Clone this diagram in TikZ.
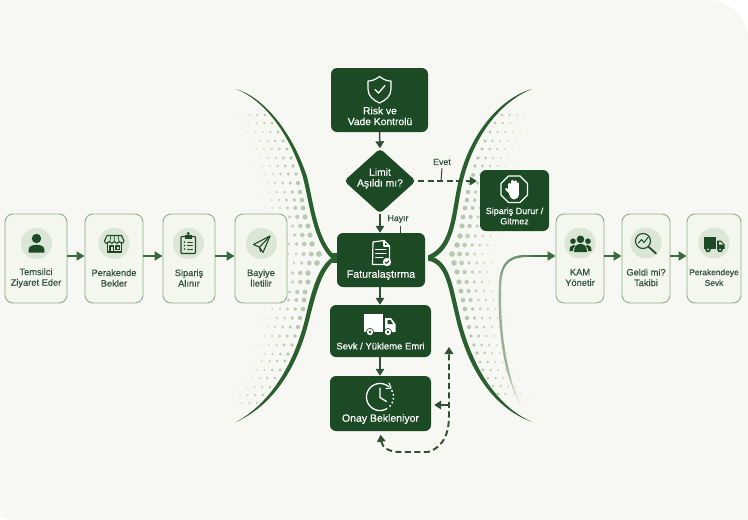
\documentclass[tikz,border=0pt]{standalone}
\usepackage{fontspec}
\setmainfont{Liberation Sans}
\newfontfamily\labfont{Liberation Sans}[FakeBold=0.35]
\usetikzlibrary{arrows.meta,shapes.geometric}
\definecolor{bgc}{HTML}{F7F8F3}
\definecolor{darkg}{HTML}{1C4A24}
\definecolor{curveg}{HTML}{2A5F2F}
\definecolor{arrg}{HTML}{386C3D}
\definecolor{arrd}{HTML}{2F4F33}
\definecolor{boxf}{HTML}{F3F7EE}
\definecolor{boxe}{HTML}{90AE86}
\definecolor{discf}{HTML}{DBE6D6}
\definecolor{dotc}{HTML}{B6C8AF}
\definecolor{labc}{HTML}{32503A}
\tikzset{
  x=1pt,y=-1pt,
  lightbox/.style={draw=boxe,fill=boxf,line width=.9pt,rounded corners=8pt,inner sep=0pt,minimum height=89pt},
  darkbox/.style={fill=darkg,rounded corners=6pt,inner sep=0pt},
  disc/.style={circle,fill=discf,inner sep=0pt,minimum size=31pt},
  lab/.style={align=center,inner sep=0pt,text=labc,font=\labfont\fontsize{9.3}{10.6}\selectfont},
  wlab/.style={align=center,inner sep=0pt,text=white,font=\labfont\fontsize{10.3}{10.8}\selectfont},
  small/.style={align=center,inner sep=0pt,text=labc,font=\labfont\fontsize{8.8}{10}\selectfont},
  flow/.style={arrg,line width=1.9pt,-{Triangle[length=8pt,width=9pt]}},
  cflow/.style={arrd,line width=1.5pt,-{Triangle[length=7pt,width=8.5pt]}},
  dflow/.style={arrd,line width=1.9pt,dash pattern=on 6pt off 3.5pt,-{Triangle[length=7pt,width=8.5pt]}},
  tick/.style={arrd,line width=1pt},
  wico/.style={white,line width=1.2pt,line join=round,line cap=round},
  dico/.style={darkg,line width=1.1pt,line join=round,line cap=round},
}
\begin{document}
\begin{tikzpicture}
\useasboundingbox (0,0) rectangle (748,520);
\fill[white] (0,0) rectangle (748,520);
\fill[bgc] (0,0) -- (708,0) .. controls (730,0) and (748,18) .. (748,40) -- (748,520) -- (10,520) .. controls (4.5,520) and (0,515.5) .. (0,510) -- cycle;
% halftone dots, left
\foreach \yy/\xc in {115/265,123/272,132/278,141/283,149/287,158/291,166/293,174/296,183/298,192/300,200/302,208/303,217/305,226/308,235/310,244/312,254/319,263/317,273/308,282/308,292/305,300/304,309/303,318/300,327/298,336/295,345/292,354/288,361/285,370/280,378/275,387/270,395/263,403/257}{
  \foreach \n in {0,...,6}{
    \pgfmathsetmacro{\ff}{1-0.55*abs(\yy-254)/140}
    \pgfmathsetmacro{\rr}{max(0.4,(2.9-0.42*\n)*\ff)}
    \pgfmathsetmacro{\oo}{1-0.1*\n}
    \fill[dotc,opacity=\oo] ({\xc-7.7*\n},\yy) circle[radius=\rr];
  }
}
% halftone dots, right
\foreach \yy/\xc in {115/502,123/495,132/490,141/485,149/482,158/478,166/475,175/473,183/470,192/468,200/467,208/465,217/463,226/462,236/460,245/457,254/452,263/454,272/457,282/459,291/461,300/463,309/465,318/467,327/469,336/471,345/474,353/477,362/480,370/483,378/488,386/493,394/498}{
  \foreach \n in {0,...,6}{
    \pgfmathsetmacro{\ff}{1-0.55*abs(\yy-254)/140}
    \pgfmathsetmacro{\rr}{max(0.4,(2.9-0.42*\n)*\ff)}
    \pgfmathsetmacro{\oo}{1-0.1*\n}
    \fill[dotc,opacity=\oo] ({\xc+7.6*\n},\yy) circle[radius=\rr];
  }
}
% big tapered curves
\fill[curveg] (236,89) .. controls (262,96.5) and (291,129) .. (307,176.5) .. controls (314,205) and (317,240) .. (336,257) -- (333,260) .. controls (313,242) and (310,205) .. (303,177.5) .. controls (289,131) and (262,99) .. (236,89) -- cycle;
\fill[curveg] (336,259) .. controls (322,270) and (316.5,291) .. (309,320.5) .. controls (301,353) and (282,401) .. (236,422) .. controls (278,399) and (297,351) .. (305,319.5) .. controls (312,289) and (318,266) .. (334,256) -- cycle;
\fill[curveg] (332,253) rectangle (338,263);
\fill[curveg] (532,89) .. controls (500,98) and (470,134) .. (459,179.5) .. controls (451,211) and (453,245) .. (428,255.5) -- (428,260.5) .. controls (457,250) and (455,213) .. (463,180.5) .. controls (474,136) and (500,102) .. (532,89) -- cycle;
\fill[curveg] (428,255.5) .. controls (450,260) and (452,284) .. (460,317.5) .. controls (470,359) and (492,404) .. (532,422) .. controls (488,406) and (466,361) .. (456,318.5) .. controls (448,286) and (446,264) .. (428,260.5) -- cycle;
% light boxes
\node[lightbox,minimum width=62pt] (n1) at (36,258.5) {};
\node[lightbox,minimum width=58pt] (n2) at (114,258.5) {};
\node[lightbox,minimum width=52pt] (n3) at (189,258.5) {};
\node[lightbox,minimum width=52pt] (n4) at (261,258.5) {};
\node[lightbox,minimum width=48pt] (n5) at (580,258.5) {};
\node[lightbox,minimum width=48pt] (n6) at (646,258.5) {};
\node[lightbox,minimum width=54pt] (n7) at (714,258.5) {};
\node[disc] (d1) at (36.5,243.5) {};
\node[disc] (d2) at (114,243.5) {};
\node[disc] (d3) at (188.5,243.5) {};
\node[disc] (d4) at (261.5,243.5) {};
\node[disc] (d5) at (580,243) {};
\node[disc] (d6) at (646,243) {};
\node[disc] (d7) at (714,243) {};
\node[lab] (t1) at (36,278) {Temsilci\\Ziyaret Eder};
\node[lab] (t2) at (114,278) {Perakende\\Bekler};
\node[lab] (t3) at (189,278) {Sipariş\\Alınır};
\node[lab] (t4) at (261,278) {Bayiye\\İletilir};
\node[lab] (t5) at (580,277.5) {KAM\\Yönetir};
\node[lab] (t6) at (646,277.5) {Geldi mi?\\Takibi};
\node[lab,font=\labfont\fontsize{8.4}{10.6}\selectfont] (t7) at (714,277.5) {Perakendeye\\Sevk};
% dark nodes
\node[darkbox,minimum width=97pt,minimum height=64pt] (risk) at (379.5,100) {};
\node[diamond,fill=darkg,rounded corners=4pt,inner sep=0pt,minimum width=72pt,minimum height=65pt,aspect=1.1] (lim) at (380,181) {};
\node[darkbox,minimum width=88pt,minimum height=54pt] (fat) at (381,260) {};
\node[darkbox,minimum width=101pt,minimum height=52pt] (sevk) at (380.5,331) {};
\node[darkbox,minimum width=101pt,minimum height=55pt] (onay) at (380.5,403.5) {};
\node[darkbox,minimum width=69pt,minimum height=61pt] (stop) at (514.5,200.5) {};
\node[wlab] (tr) at (380,116) {Risk ve\\Vade Kontrolü};
\node[wlab] (tl) at (380,178.5) {Limit\\Aşıldı mı?};
\node[wlab,font=\labfont\fontsize{10.6}{10.8}\selectfont] (tf) at (381,275) {Faturalaştırma};
\node[wlab,font=\labfont\fontsize{9.5}{10.8}\selectfont] (ts) at (380.5,346) {Sevk / Yükleme Emri};
\node[wlab,font=\labfont\fontsize{10.5}{10.8}\selectfont] (to) at (380.5,419) {Onay Bekleniyor};
\node[wlab,font=\labfont\fontsize{9}{10.3}\selectfont] (tt) at (514.5,216) {Sipariş Durur /\\Gitmez};
\node[small] (evet) at (442,162) {Evet};
\node[small] (hayir) at (398,219) {Hayır};
% connectors
\draw[flow] ([yshift=2.5pt]n1.east) -- ([yshift=2.5pt]n2.west);
\draw[flow] ([yshift=2.5pt]n2.east) -- ([yshift=2.5pt]n3.west);
\draw[flow] ([yshift=2.5pt]n3.east) -- ([yshift=2.5pt]n4.west);
\draw[flow] ([yshift=2.5pt]n5.east) -- ([yshift=2.5pt]n6.west);
\draw[flow] ([yshift=2.5pt]n6.east) -- ([yshift=2.5pt]n7.west);
\draw[cflow] (risk.south) -- (lim.north);
\draw[cflow] (lim.south) -- (lim.south |- fat.north);
\draw[cflow] (lim.south |- fat.south) -- (lim.south |- sevk.north);
\draw[cflow] (lim.south |- sevk.south) -- (lim.south |- onay.north);
\coordinate (evetb) at (441,181);
\coordinate (hayb) at (400,232.5);
\draw[dflow] ([xshift=2pt]lim.east) -- ([xshift=-3pt]stop.west |- evetb);
\draw[tick] (evet.south) ++(0,3) -- (evetb);
\draw[tick] (hayir.south) ++(2,3) -- (hayb);
% incoming light curve with gradient
\foreach \i in {0,...,23}{
  \pgfmathsetmacro{\ta}{\i/24}
  \pgfmathsetmacro{\tb}{(\i+1)/24}
  \pgfmathsetmacro{\cc}{min(50,4+\i*5)}
  \pgfmathsetmacro{\lw}{min(2.4,0.5+\i*0.2)}
  \draw[arrg!\cc!bgc,line width=\lw pt,line cap=round] plot[domain=\ta:\tb,samples=4,smooth] ({(1-\x)^3*523+3*(1-\x)^2*\x*505+3*(1-\x)*\x*\x*499+\x^3*500},{(1-\x)^3*408+3*(1-\x)^2*\x*380+3*(1-\x)*\x*\x*330+\x^3*290});
}
\foreach \i in {0,...,9}{
  \pgfmathsetmacro{\ta}{\i/10}
  \pgfmathsetmacro{\tb}{(\i+1)/10}
  \pgfmathsetmacro{\cc}{50+\i*3}
  \draw[arrg!\cc!bgc,line width=2.3pt,line cap=round] plot[domain=\ta:\tb,samples=4,smooth] ({(1-\x)^3*500+3*(1-\x)^2*\x*500+3*(1-\x)*\x*\x*505+\x^3*525},{(1-\x)^3*290+3*(1-\x)^2*\x*268+3*(1-\x)*\x*\x*257+\x^3*256});
}
\foreach \i in {0,...,5}{
  \pgfmathsetmacro{\cc}{80+\i*4}
  \draw[arrg!\cc!bgc,line width=2.2pt] ({525+\i*2},256) -- ({527+\i*2},256);
}
\coordinate (kin) at (537,256);
\draw[flow] (kin) -- ([yshift=2.5pt]n5.west);
% dashed feedback
\coordinate (fb1) at (449,347);
\coordinate (fb2) at (449,405);
\draw[dflow,{Triangle[length=7pt,width=8.5pt]}-{Triangle[length=7pt,width=8.5pt]}] ([yshift=-3.5pt]onay.south) .. controls (382,448) and (390,452) .. (400,452) -- (428,452) .. controls (446,446) and (449,430) .. (449,415) -- (fb1);
\draw[cflow,line width=1.8pt] (fb2) -- ([xshift=3pt]onay.east |- fb2);
% --- icons ---
% person
\fill[darkg] (36.5,238.5) circle[radius=4.7];
\fill[darkg] (28.5,252.5) .. controls (27.5,247) and (31,244.8) .. (36.5,244.8) .. controls (42,244.8) and (45.5,247) .. (44.5,252.5) -- cycle;
% store
\draw[dico] (107.5,242.5) -- (107.5,252) -- (121.5,252) -- (121.5,242.5);
\draw[dico] (107,235.5) -- (121.5,235.5) -- (124,241) .. controls (123.5,244) and (120,244) .. (119.3,241.5) .. controls (118.5,244) and (115,244) .. (114.3,241.5) .. controls (113.5,244) and (110,244) .. (109.3,241.5) .. controls (108.5,244) and (105,244) .. (104.5,241) -- cycle;
\draw[dico] (110,252) -- (110,246) -- (113.5,246) -- (113.5,252);
\draw[dico] (116,246) rectangle (119.5,249.5);
\draw[dico,line width=.7pt] (111,235.5) -- (110,241) (114.2,235.5) -- (114.2,241) (118,235.5) -- (119,241);
% clipboard
\draw[dico,line width=1.2pt,rounded corners=1pt] (181,236.5) rectangle (195.5,253.5);
\fill[darkg] (184.5,234.5) rectangle (192,238.5);
\fill[darkg] (188.2,233.5) circle[radius=1.6];
\foreach \yy in {242,245.5,249}{
  \fill[darkg] (184.5,\yy) circle[radius=.8];
  \draw[dico,line width=.9pt] (187.5,\yy) -- (192.5,\yy);
}
% plane
\draw[dico] (270,236) -- (253.5,244.5) -- (259.5,247.2) -- (263,252.5) -- cycle;
\draw[dico] (270,236) -- (259.5,247.2) -- (260.5,251.5);
% group
\fill[darkg] (580.5,239.3) circle[radius=3.8];
\fill[darkg] (573,241.2) circle[radius=2.8];
\fill[darkg] (588,241.2) circle[radius=2.8];
\fill[darkg] (574,252) .. controls (574,246) and (577,244) .. (580.5,244) .. controls (584,244) and (587,246) .. (587,252) -- cycle;
\fill[darkg] (569.5,251) .. controls (569.5,247) and (571,245) .. (573.5,245) .. controls (574.5,245) and (575,245.3) .. (575.5,245.8) .. controls (573.5,247) and (572.8,249) .. (572.8,251) -- cycle;
\fill[darkg] (591.5,251) .. controls (591.5,247) and (590,245) .. (587.5,245) .. controls (586.5,245) and (586,245.3) .. (585.5,245.8) .. controls (587.5,247) and (588.2,249) .. (588.2,251) -- cycle;
% magnifier
\draw[dico,line width=1.1pt] (643,241) circle[radius=7.5];
\draw[dico,line width=1.8pt] (648.8,247) -- (656,253.5);
\draw[dico,line width=1pt] (638.5,243) -- (641.5,239.5) -- (644,242.5) -- (648,237.5);
% truck light
\fill[darkg] (704,237) rectangle (716,249);
\fill[darkg] (717,240.5) -- (721,240.5) -- (724.5,244.5) -- (724.5,249) -- (717,249) -- cycle;
\fill[discf] (719,242) -- (721,242) -- (723,244.5) -- (719,244.5) -- cycle;
\foreach \xx in {708,720}{
  \fill[darkg] (\xx,249.5) circle[radius=2.8];
  \fill[discf] (\xx,249.5) circle[radius=1];
}
% shield
\draw[wico] (379.5,76.5) .. controls (384,80) and (387.5,81) .. (391,81) -- (391,89) .. controls (391,96) and (386,100) .. (379.5,103) .. controls (373,100) and (368,96) .. (368,89) -- (368,81) .. controls (371.5,81) and (375,80) .. (379.5,76.5) -- cycle;
\draw[wico,line width=1.3pt] (375,89.5) -- (378.5,93) -- (385,85.5);
% document
\draw[wico] (373,242) -- (384,240.5) -- (389.5,246) -- (389.5,258) -- (389.5,264.5) -- (372.5,264.5) -- cycle;
\draw[wico] (384,240.5) -- (384,246) -- (389.5,246);
\draw[wico,line width=1pt] (375.5,249) -- (386,249) (375.5,253) -- (386,253) (375.5,257) -- (383,257);
\fill[white] (387,262) circle[radius=4.2];
\draw[darkg,line width=1pt] (385,262) -- (386.5,263.5) -- (389.2,260.5);
% truck white
\fill[white] (364,313.5) rectangle (383,331.5);
\fill[white] (385,318) -- (391,318) -- (395.5,324) -- (395.5,332) -- (385,332) -- cycle;
\fill[darkg] (387.5,320) -- (390.5,320) -- (393,324) -- (387.5,324) -- cycle;
\foreach \xx in {370,388}{
  \fill[darkg] (\xx,332) circle[radius=4];
  \fill[white] (\xx,332) circle[radius=3.2];
  \fill[darkg] (\xx,332) circle[radius=1.4];
}
% clock
\draw[wico,line width=1.3pt] plot[domain=60:310,samples=50,smooth] ({380+13.5*cos(\x)},{397+13.5*sin(\x)});
\draw[white,line width=1.5pt,dash pattern=on 1.6pt off 2.4pt] plot[domain=-30:55,samples=24,smooth] ({380+13.5*cos(\x)},{397+13.5*sin(\x)});
\draw[wico] (389,383) -- (391,388) -- (386,388.5);
\draw[wico,line width=1.3pt] (380,388) -- (380,397.5) -- (386.5,401.5);
% stop sign
\draw[wico,line width=1.3pt] (508.5,176) -- (520,176) -- (527.5,183.5) -- (527.5,195) -- (520,202.5) -- (508.5,202.5) -- (501,195) -- (501,183.5) -- cycle;
\fill[white] (508.5,188) rectangle (519,195);
\foreach \xx/\yt in {509.5/184,512.5/181,515.5/181.5,518/183.5}{
  \draw[white,line width=2.2pt,line cap=round] (\xx,\yt) -- (\xx,190);
}
\fill[white] (508.5,193) -- (505,189) -- (506.5,188) -- (510,190.5) -- cycle;
\fill[white] (509,193) .. controls (510,198) and (512,199.5) .. (514,199.5) .. controls (517,199.5) and (519,197) .. (519,193) -- cycle;
\end{tikzpicture}
\end{document}
